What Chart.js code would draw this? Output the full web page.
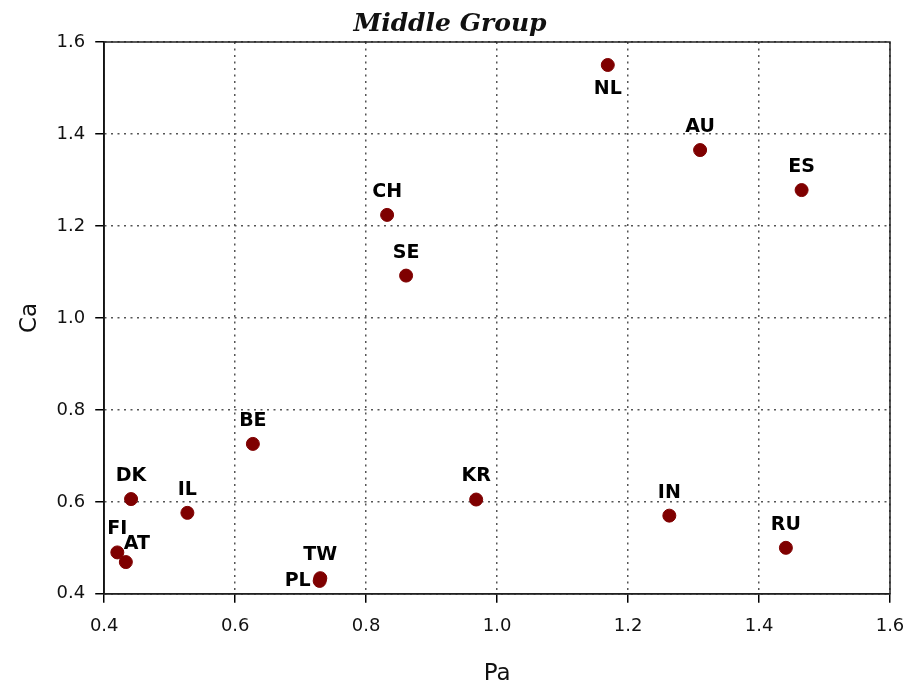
<!DOCTYPE html>
<html>
<head>
<meta charset="utf-8">
<script src="https://cdn.jsdelivr.net/npm/chart.js@4/dist/chart.umd.min.js"></script>
<style>
    html, body { margin: 0; padding: 0; background: #fff; }
    #wrap { width: 912px; height: 693px; }
</style>
</head>
<body>
<div id="wrap"><canvas id="scatterChart"></canvas></div>
<script>
// country codes and their Pa / Ca values
const countries = ['NL', 'AU', 'ES', 'CH', 'SE', 'BE', 'DK', 'IL', 'KR', 'IN', 'RU', 'FI', 'AT', 'TW', 'PL'];
const paValues = [1.169, 1.310, 1.465, 0.832, 0.861, 0.627, 0.441, 0.527, 0.968, 1.263, 1.441, 0.420, 0.433, 0.730, 0.729];
const caValues = [1.550, 1.365, 1.278, 1.224, 1.092, 0.726, 0.606, 0.576, 0.605, 0.570, 0.500, 0.490, 0.469, 0.434, 0.428];
const axisTicks = [0.4, 0.6, 0.8, 1.0, 1.2, 1.4, 1.6];

// where each label sits relative to its dot
const labelPlace = { NL: 'below', AT: 'upRight', PL: 'left' };
const placeOffsets = {
    above: [0, -23],
    below: [0, 24],
    left: [-22, 0],
    upRight: [11, -18]
};

const frameAndLabels = {
    id: 'frameAndLabels',
    afterDatasetsDraw(chart) {
        const ctx = chart.ctx;
        const area = chart.chartArea;
        ctx.save();
        ctx.strokeStyle = '#222';
        ctx.lineWidth = 1.5;
        ctx.strokeRect(area.left, area.top, area.right - area.left, area.bottom - area.top);

        const meta = chart.getDatasetMeta(0);
        ctx.font = 'bold 19px "DejaVu Sans"';
        ctx.fillStyle = '#000';
        ctx.textAlign = 'center';
        ctx.textBaseline = 'middle';
        meta.data.forEach((pt, i) => {
            const name = countries[i];
            const off = placeOffsets[labelPlace[name] || 'above'];
            ctx.fillText(name, pt.x + off[0], pt.y + off[1]);
        });
        ctx.restore();
    }
};

document.addEventListener('DOMContentLoaded', () => {
    const ctx = document.getElementById('scatterChart').getContext('2d');
    const points = paValues.map((v, i) => ({ x: v, y: caValues[i] }));

    const axisCommon = {
        type: 'linear',
        min: axisTicks[0],
        max: axisTicks[axisTicks.length - 1],
        afterBuildTicks: (scale) => {
            scale.ticks = axisTicks.map(v => ({ value: v }));
        },
        grid: {
            color: '#555',
            lineWidth: 1.5,
            tickLength: 9,
            tickColor: '#000',
            tickWidth: 1.5,
            tickBorderDash: []
        },
        border: {
            display: true,
            color: '#000',
            width: 1.5,
            dash: [2, 4.5]
        }
    };

    new Chart(ctx, {
        type: 'scatter',
        data: {
            datasets: [{
                label: 'Middle Group',
                data: points,
                backgroundColor: '#7f0000',
                borderColor: '#7f0000',
                pointRadius: 6.5,
                pointHoverRadius: 6.5
            }]
        },
        options: {
            responsive: true,
            maintainAspectRatio: false,
            animation: false,
            layout: {
                padding: { left: 10, right: 22, top: 7, bottom: 0 }
            },
            plugins: {
                legend: { display: false },
                tooltip: { enabled: false },
                title: {
                    display: true,
                    text: 'Middle Group',
                    color: '#111',
                    font: { family: '"DejaVu Serif"', size: 25, weight: 'bold', style: 'italic', lineHeight: 1.2 },
                    padding: { top: 2, bottom: 3 }
                }
            },
            scales: {
                x: Object.assign({}, axisCommon, {
                    position: 'bottom',
                    // end labels fit in the layout padding, no extra side room
                    afterFit: (scale) => {
                        scale.paddingLeft = 0;
                        scale.paddingRight = 0;
                    },
                    ticks: {
                        padding: 13,
                        color: '#111',
                        font: { family: '"DejaVu Sans"', size: 18 },
                        maxRotation: 0,
                        minRotation: 0,
                        callback: v => v.toFixed(1)
                    },
                    title: {
                        display: true,
                        text: 'Pa',
                        color: '#111',
                        font: { family: '"DejaVu Sans"', size: 23, lineHeight: 1.2 },
                        padding: { top: 10, bottom: 5 }
                    }
                }),
                y: Object.assign({}, axisCommon, {
                    position: 'left',
                    ticks: {
                        padding: 10,
                        color: '#111',
                        font: { family: '"DejaVu Sans"', size: 18 },
                        callback: v => v.toFixed(1)
                    },
                    title: {
                        display: true,
                        text: 'Ca',
                        color: '#111',
                        font: { family: '"DejaVu Sans"', size: 23, lineHeight: 1.2 },
                        padding: { top: 6, bottom: 3 }
                    }
                })
            }
        },
        plugins: [frameAndLabels]
    });
});
</script>
</body>
</html>
